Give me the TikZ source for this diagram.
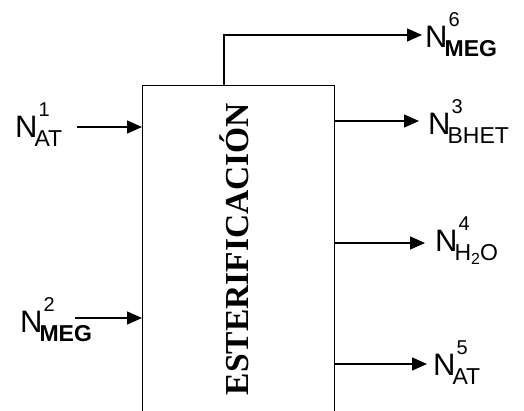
\documentclass[tikz,border=0pt]{standalone}
\usepackage{fontspec}
\setmainfont{Liberation Sans}
\newfontfamily\titlefont{Liberation Serif}
\usetikzlibrary{arrows.meta}
\newcommand{\Nlbl}[3][\mdseries]{{\fontsize{31}{31}\selectfont N}\kern-3pt\makebox[0pt][l]{\kern4pt\raisebox{21pt}{\fontsize{20}{20}\selectfont #2}}\raisebox{-9pt}{\fontsize{23}{23}\selectfont #1#3}}
\tikzset{
  flow/.style={line width=1.3pt, -{Triangle[length=15pt,width=13pt]}},
  lbl/.style={inner sep=0pt, anchor=base west},
  unitbox/.style={draw, line width=1.3pt, minimum width=192pt, minimum height=340pt, inner sep=0pt, anchor=north west}
}
\begin{document}
\begin{tikzpicture}[x=1pt,y=-1pt]
\fill[white] (0,0) rectangle (524,411);
\clip (0,0) rectangle (524,411);
\node[unitbox] (box) at (142,85) {};
\node[rotate=90, anchor=base, inner sep=0pt] (title) at (248,249) {\titlefont\bfseries\fontsize{33.5}{33.5}\selectfont ESTERIFICACIÓN};
% inputs
\node[lbl] (n1) at (15,138) {\Nlbl{1}{AT}};
\node[lbl] (n2) at (20,332) {\Nlbl[\bfseries]{2}{MEG}};
\coordinate (in1) at (77,127);
\coordinate (in2) at (75,318);
\draw[flow] (in1) -- (in1 -| box.west);
\draw[flow] (in2) -- (in2 -| box.west);
% outputs
\node[lbl] (n6) at (425,48) {\Nlbl[\bfseries]{6}{MEG}};
\node[lbl] (n3) at (428,135) {\Nlbl{3}{BHET}};
\node[lbl] (n4) at (435,252) {\Nlbl{4}{H\raisebox{-4pt}{\fontsize{16}{16}\selectfont 2}O}};
\node[lbl] (n5) at (433,375) {\Nlbl{5}{AT}};
\coordinate (top6) at (224,35);
\coordinate (o6) at (422,35);
\coordinate (o3) at (419,121);
\coordinate (o4) at (425,243);
\coordinate (o5) at (427,364);
\draw[flow] (top6 |- box.north) -- (top6) -- (o6);
\draw[flow] (o3 -| box.east) -- (o3);
\draw[flow] (o4 -| box.east) -- (o4);
\draw[flow] (o5 -| box.east) -- (o5);
\end{tikzpicture}
\end{document}
